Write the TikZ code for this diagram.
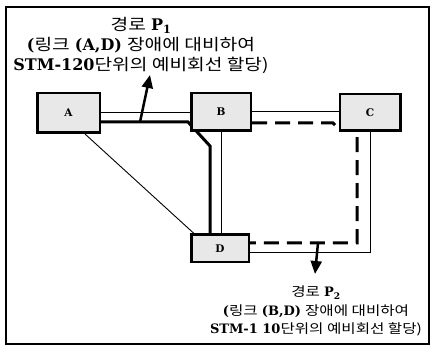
\documentclass[tikz,border=0pt]{standalone}
\usepackage{fontspec}
\setmainfont{DejaVu Serif}
\newfontfamily\cjk[FakeStretch=1.2]{Noto Sans CJK KR}
\usetikzlibrary{arrows.meta,backgrounds}
\newcommand{\K}[1]{{\cjk #1}}
\tikzset{
  nodebox/.style={draw, line width=2.5pt, fill=gray!18, inner sep=0pt,
    font=\bfseries\fontsize{10.5}{12}\selectfont},
  thinlink/.style={line width=0.9pt},
  p1path/.style={line width=3pt, line join=miter},
  p2path/.style={line width=3pt, dash pattern=on 15pt off 8pt},
  parrow/.style={line width=2.5pt, -{Triangle[length=13pt,width=11pt]}},
  lbltop/.style={align=center, font=\fontsize{16}{20}\selectfont},
  lblbot/.style={align=center, font=\fontsize{13}{18.5}\selectfont}
}
\begin{document}
\begin{tikzpicture}[x=1pt,y=-1pt]
\useasboundingbox (0,0) rectangle (432,352);
\draw[line width=1.5pt] (6,7) rectangle (429,344);

\node[nodebox, minimum width=62.5pt, minimum height=39.5pt] (A) at (68.5,113) {A};
\node[nodebox, minimum width=59.5pt, minimum height=37.5pt] (B) at (221,112) {B};
\node[nodebox, minimum width=60.5pt, minimum height=36.5pt] (C) at (370,112.5) {C};
\node[nodebox, minimum width=57.5pt, minimum height=27.5pt] (D) at (220,248.5) {D};

\begin{pgfonlayer}{background}
  % physical links
  \draw[thinlink] (A.east |- 0,112) -- (B.west |- 0,112);
  \draw[thinlink] (B.east |- 0,111) -- (C.west |- 0,111);
  \draw[thinlink] (A.south -| 85,0) -- ([xshift=4pt]D.north west);
  \draw[thinlink] (B.south) -- (B.south |- D.north);
  \draw[thinlink] (C.south) |- (D.east |- 0,252);
  % protection path P1
  \draw[p1path] (A.east |- 0,122) -- (188,122) -- (210,146) -- (D.north -| 210,0);
  % protection path P2
  \draw[p2path] (B.east |- 0,123) -- (333,123) -- (340,130) -- (357,130) -- (357,243) -- (D.east |- 0,243);
\end{pgfonlayer}

\coordinate (a1s) at (140,122);
\coordinate (a1e) at (150,75);
\draw[parrow] (a1s) -- (a1e);
\coordinate (a2s) at (318,243);
\coordinate (a2e) at (315,274);
\draw[parrow] (a2s) -- (a2e);

\node[lbltop] (L1) at (141,45.5) {\K{경로} \textbf{P\textsubscript{1}}\\ \textbf{(}\K{링크} \textbf{(A,D)} \K{장애에 대비하여}\\ \textbf{STM-120}\K{단위의 예비회선 할당)}};
\node[lblbot] (L2) at (316,311) {\K{경로} \textbf{P\textsubscript{2}}\\ \textbf{(}\K{링크} \textbf{(B,D)} \K{장애에 대비하여}\\ \textbf{STM-1 10}\K{단위의 예비회선 할당)}};
\end{tikzpicture}
\end{document}
